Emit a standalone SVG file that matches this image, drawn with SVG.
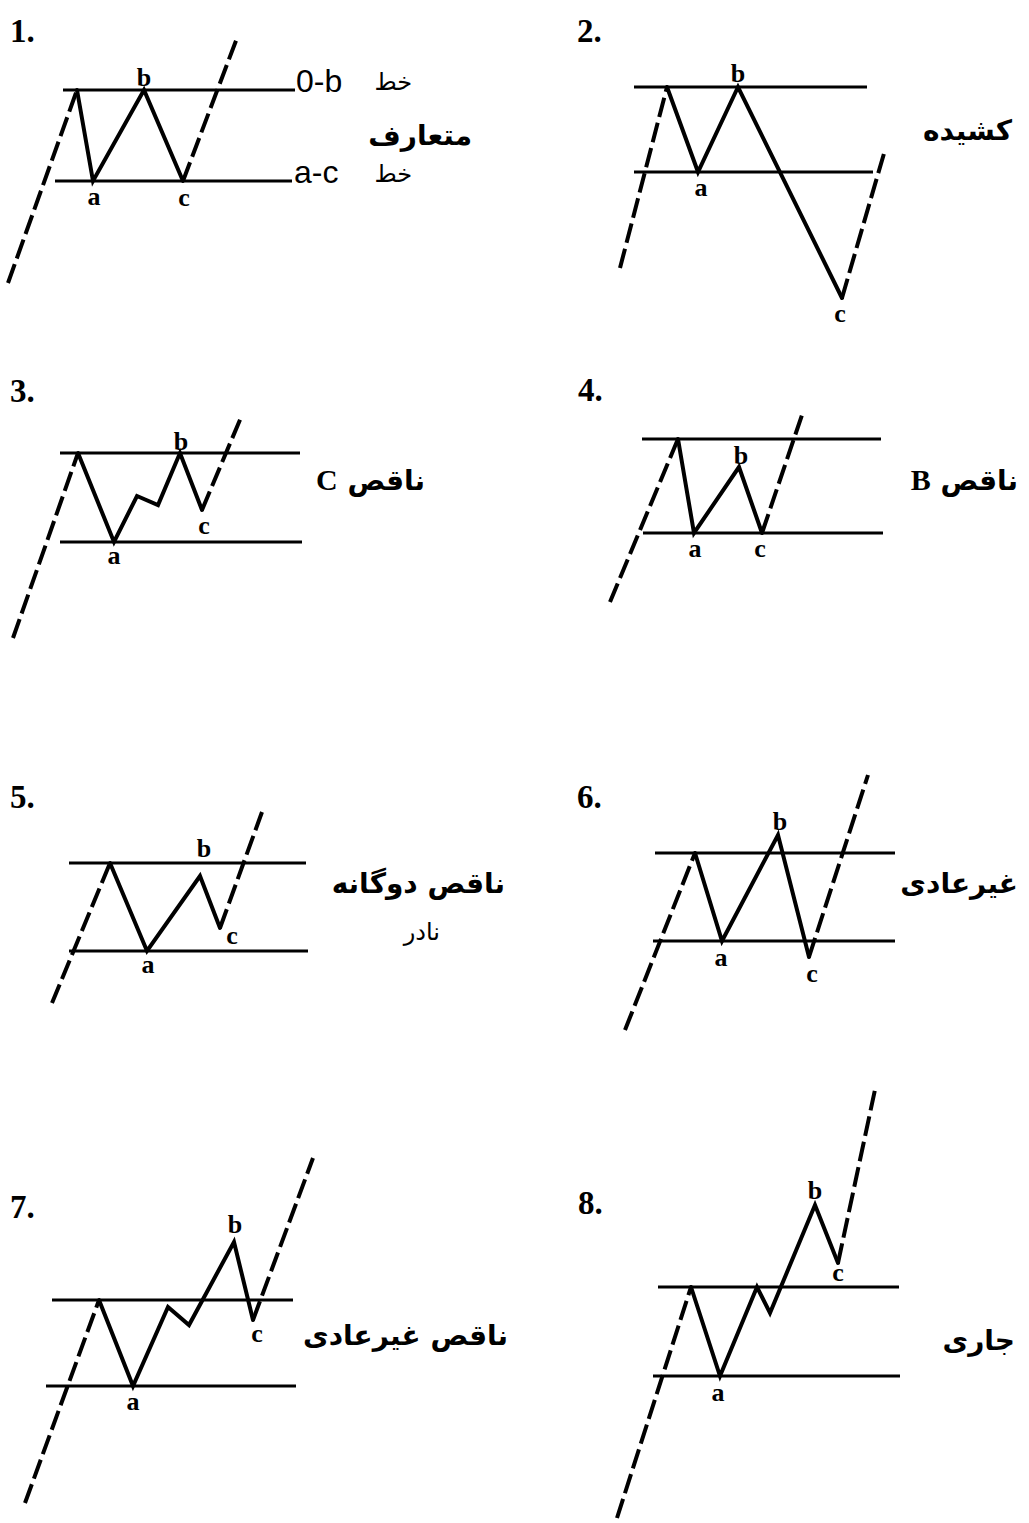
<svg xmlns="http://www.w3.org/2000/svg" width="1029" height="1523" viewBox="0 0 1029 1523">
<style>
.bg{fill:#fff}
.hl{stroke:#000;stroke-width:3;fill:none}
.zz{stroke:#000;stroke-width:4;fill:none;stroke-linejoin:miter;stroke-linecap:round}
.ds{stroke:#000;stroke-width:4;fill:none;stroke-dasharray:20 6}
.lb{font-family:"Liberation Serif",serif;font-weight:bold;font-size:26px;text-anchor:middle;fill:#000}
.num{font-family:"Liberation Serif",serif;font-weight:bold;font-size:33px;fill:#000}
.fa{font-family:"DejaVu Sans",sans-serif;font-weight:bold;font-size:28px;fill:#000;text-anchor:end}
.fr{font-family:"DejaVu Sans",sans-serif;font-size:24px;fill:#000;text-anchor:end}
.lt{font-family:"Liberation Sans",sans-serif;font-size:32px;fill:#000}
.ser{font-family:"Liberation Serif",serif;font-weight:bold;font-size:30px}
</style>
<rect class="bg" x="0" y="0" width="1029" height="1523"/>

<g id="panel1">
<text class="num" x="10" y="42">1.</text>
<line class="hl" x1="63" y1="90" x2="295" y2="90"/>
<line class="hl" x1="55" y1="181" x2="292" y2="181"/>
<polyline class="zz" points="77,90 93,181 144,90 183,181"/>
<line class="ds" x1="8" y1="283" x2="77" y2="90"/>
<line class="ds" x1="183" y1="181" x2="237" y2="38"/>
<text class="lb" x="144" y="86">b</text>
<text class="lb" x="94" y="205">a</text>
<text class="lb" x="184" y="206">c</text>
<text class="lt" x="296" y="92">0-b</text>
<text class="lt" x="294" y="183">a-c</text>
<text class="fr" x="412" y="90">خط</text>
<text class="fr" x="412" y="182">خط</text>
<text class="fa" x="472" y="145">متعارف</text>
</g>

<g id="panel2">
<text class="num" x="577" y="42">2.</text>
<line class="hl" x1="634" y1="87" x2="867" y2="87"/>
<line class="hl" x1="634" y1="172" x2="873" y2="172"/>
<polyline class="zz" points="667,87 698,172 738,87 842,298"/>
<line class="ds" x1="620" y1="268" x2="667" y2="87"/>
<line class="ds" x1="842" y1="298" x2="885" y2="150"/>
<text class="lb" x="738" y="82">b</text>
<text class="lb" x="701" y="196">a</text>
<text class="lb" x="840" y="322">c</text>
<text class="fa" x="1012" y="140">کشیده</text>
</g>

<g id="panel3">
<text class="num" x="10" y="402">3.</text>
<line class="hl" x1="60" y1="453" x2="300" y2="453"/>
<line class="hl" x1="60" y1="542" x2="302" y2="542"/>
<polyline class="zz" points="78,453 114,542 137,496 158,505 180,453 202,510"/>
<line class="ds" x1="13" y1="638" x2="78" y2="453"/>
<line class="ds" x1="202" y1="510" x2="242" y2="415"/>
<text class="lb" x="181" y="450">b</text>
<text class="lb" x="114" y="564">a</text>
<text class="lb" x="204" y="534">c</text>
<text class="fa" x="425" y="490"><tspan class="ser">C</tspan> ناقص</text>
</g>

<g id="panel4">
<text class="num" x="578" y="401">4.</text>
<line class="hl" x1="642" y1="439" x2="881" y2="439"/>
<line class="hl" x1="643" y1="533" x2="883" y2="533"/>
<polyline class="zz" points="678,439 694,533 739,467 762,533"/>
<line class="ds" x1="610" y1="602" x2="678" y2="439"/>
<line class="ds" x1="762" y1="533" x2="803" y2="412"/>
<text class="lb" x="741" y="464">b</text>
<text class="lb" x="695" y="557">a</text>
<text class="lb" x="760" y="557">c</text>
<text class="fa" x="1018" y="490"><tspan class="ser">B</tspan> ناقص</text>
</g>

<g id="panel5">
<text class="num" x="10" y="808">5.</text>
<line class="hl" x1="69" y1="863" x2="306" y2="863"/>
<line class="hl" x1="69" y1="951" x2="308" y2="951"/>
<polyline class="zz" points="110,863 147,951 200,876 220,928"/>
<line class="ds" x1="52" y1="1003" x2="110" y2="863"/>
<line class="ds" x1="220" y1="928" x2="262" y2="812"/>
<text class="lb" x="204" y="857">b</text>
<text class="lb" x="148" y="973">a</text>
<text class="lb" x="232" y="944">c</text>
<text class="fa" x="505" y="893">ناقص دوگانه</text>
<text class="fr" x="440" y="940">نادر</text>
</g>

<g id="panel6">
<text class="num" x="577" y="808">6.</text>
<line class="hl" x1="655" y1="853" x2="895" y2="853"/>
<line class="hl" x1="653" y1="941" x2="895" y2="941"/>
<polyline class="zz" points="695,853 722,941 778,835 809,957"/>
<line class="ds" x1="625" y1="1030" x2="695" y2="853"/>
<line class="ds" x1="809" y1="957" x2="868" y2="775"/>
<text class="lb" x="780" y="830">b</text>
<text class="lb" x="721" y="966">a</text>
<text class="lb" x="812" y="982">c</text>
<text class="fa" x="1018" y="893">غیرعادی</text>
</g>

<g id="panel7">
<text class="num" x="10" y="1218">7.</text>
<line class="hl" x1="52" y1="1300" x2="293" y2="1300"/>
<line class="hl" x1="46" y1="1386" x2="296" y2="1386"/>
<polyline class="zz" points="99,1300 133,1386 168,1307 189,1325 234,1242 253,1320"/>
<line class="ds" x1="25" y1="1503" x2="99" y2="1300"/>
<line class="ds" x1="253" y1="1320" x2="313" y2="1158"/>
<text class="lb" x="235" y="1233">b</text>
<text class="lb" x="133" y="1410">a</text>
<text class="lb" x="257" y="1342">c</text>
<text class="fa" x="508" y="1345">ناقص غیرعادی</text>
</g>

<g id="panel8">
<text class="num" x="578" y="1214">8.</text>
<line class="hl" x1="658" y1="1287" x2="899" y2="1287"/>
<line class="hl" x1="653" y1="1376" x2="900" y2="1376"/>
<polyline class="zz" points="691,1287 720,1376 757,1287 770,1313 815,1205 838,1263"/>
<line class="ds" x1="617" y1="1518" x2="691" y2="1287"/>
<line class="ds" x1="838" y1="1263" x2="876" y2="1085"/>
<text class="lb" x="815" y="1199">b</text>
<text class="lb" x="718" y="1401">a</text>
<text class="lb" x="838" y="1281">c</text>
<text class="fa" x="1015" y="1350">جاری</text>
</g>
</svg>
